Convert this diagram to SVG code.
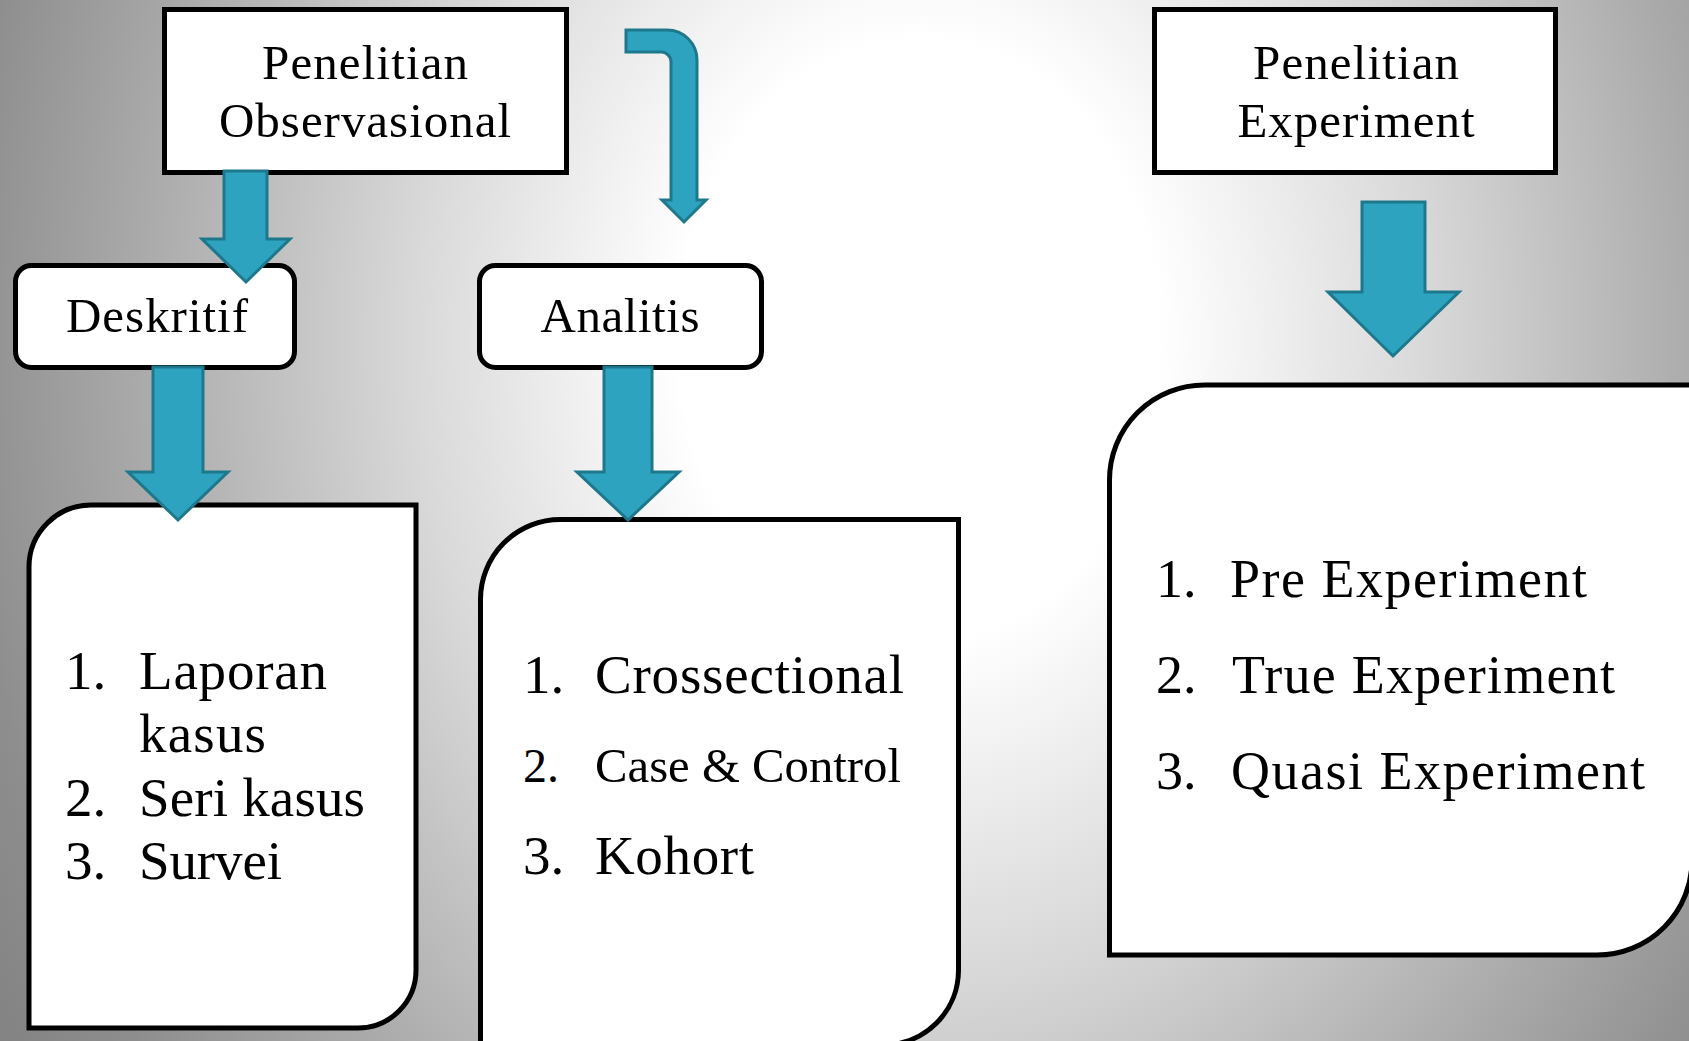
<svg xmlns="http://www.w3.org/2000/svg" width="1689" height="1041" viewBox="0 0 1689 1041">
<defs>
<radialGradient id="bg" gradientUnits="userSpaceOnUse" cx="920" cy="340" r="1200" gradientTransform="translate(920 340) scale(1 1.25) translate(-920 -340)">
<stop offset="0" stop-color="#ffffff"/>
<stop offset="0.2" stop-color="#ffffff"/>
<stop offset="0.42" stop-color="#d9d9d9"/>
<stop offset="0.65" stop-color="#aaaaaa"/>
<stop offset="0.8" stop-color="#8e8e8e"/>
<stop offset="1" stop-color="#777777"/>
</radialGradient>
<style>
.box{fill:#ffffff;stroke:#000000;stroke-width:5}
.t{font-family:"Liberation Serif","Times New Roman",serif;fill:#000000}
.title{font-size:49px;text-anchor:middle}
.li{font-size:55px}
.arrow{fill:#2ea3c0;stroke:#1e788c;stroke-width:3;stroke-linejoin:miter}
</style>
</defs>
<rect x="0" y="0" width="1689" height="1041" fill="url(#bg)"/>

<g id="obs">
<rect class="box" x="164.5" y="9.5" width="402" height="163"/>
<text class="t title" x="365" y="79" textLength="206" lengthAdjust="spacing">Penelitian</text>
<text class="t title" x="365" y="137" textLength="292" lengthAdjust="spacing">Observasional</text>
</g>

<g id="exp">
<rect class="box" x="1154.5" y="9.5" width="401" height="163"/>
<text class="t title" x="1356" y="79" textLength="206" lengthAdjust="spacing">Penelitian</text>
<text class="t title" x="1356" y="137" textLength="237" lengthAdjust="spacing">Experiment</text>
</g>

<g id="deskritif">
<rect class="box" x="15.5" y="265.5" width="279" height="102" rx="16"/>
<text class="t title" x="157" y="332" textLength="182" lengthAdjust="spacing">Deskritif</text>
</g>

<g id="analitis">
<rect class="box" x="479.5" y="265.5" width="282" height="102" rx="16"/>
<text class="t title" x="620" y="332" textLength="159" lengthAdjust="spacing">Analitis</text>
</g>

<g id="list-deskritif">
<path class="box" d="M29,1028 L29,567 A62,62 0 0 1 91,505 L416,505 L416,970 A58,58 0 0 1 358,1028 Z"/>
<text class="t li" x="65" y="689">1.</text>
<text class="t li" x="139" y="689" textLength="188" lengthAdjust="spacing">Laporan</text>
<text class="t li" x="139" y="752" textLength="127" lengthAdjust="spacing">kasus</text>
<text class="t li" x="65" y="816">2.</text>
<text class="t li" x="139" y="816" textLength="226" lengthAdjust="spacing">Seri kasus</text>
<text class="t li" x="65" y="879">3.</text>
<text class="t li" x="139" y="879" textLength="143" lengthAdjust="spacing">Survei</text>
</g>

<g id="list-analitis">
<path class="box" d="M480.5,1070 L480.5,600 A80,80 0 0 1 560.5,519.5 L958.5,519.5 L958.5,970 A75,75 0 0 1 883.5,1045 L480.5,1045 Z"/>
<text class="t li" x="523" y="693">1.</text>
<text class="t li" x="595" y="693" textLength="309" lengthAdjust="spacing">Crossectional</text>
<text class="t li" x="523" y="782" style="font-size:48px">2.</text>
<text class="t li" x="595" y="782" style="font-size:48px" textLength="306" lengthAdjust="spacingAndGlyphs">Case &amp; Control</text>
<text class="t li" x="523" y="874">3.</text>
<text class="t li" x="595" y="874" textLength="159" lengthAdjust="spacing">Kohort</text>
</g>

<g id="list-experiment">
<path class="box" d="M1109.5,955 L1109.5,480 A95,95 0 0 1 1204.5,385 L1692,385 L1692,860 A95,95 0 0 1 1597,955 Z"/>
<text class="t li" x="1156" y="597" style="font-size:54px">1.</text>
<text class="t li" x="1230" y="597" style="font-size:54px" textLength="357" lengthAdjust="spacing">Pre Experiment</text>
<text class="t li" x="1156" y="693" style="font-size:54px">2.</text>
<text class="t li" x="1232" y="693" style="font-size:54px" textLength="383" lengthAdjust="spacing">True Experiment</text>
<text class="t li" x="1156" y="789" style="font-size:54px">3.</text>
<text class="t li" x="1231" y="789" style="font-size:54px" textLength="414" lengthAdjust="spacing">Quasi Experiment</text>
</g>

<g id="connectors">
<path class="arrow" d="M224,171 L267,171 L267,239 L290,239 L246,282 L202,239 L224,239 Z"/>
<path class="arrow" d="M626,30 L667,30 A30,30 0 0 1 697,60 L697,200 L706,200 L684,222 L662,200 L671,200 L671,62 A10,10 0 0 0 661,52 L626,52 Z"/>
<path class="arrow" d="M153,367 L203,367 L203,472 L228,472 L178,520 L128,472 L153,472 Z"/>
<path class="arrow" d="M604,367 L652,367 L652,472 L679,472 L628,520 L577,472 L604,472 Z"/>
<path class="arrow" d="M1362,202 L1425,202 L1425,292 L1459,292 L1393,356 L1328,292 L1362,292 Z"/>
</g>
</svg>
